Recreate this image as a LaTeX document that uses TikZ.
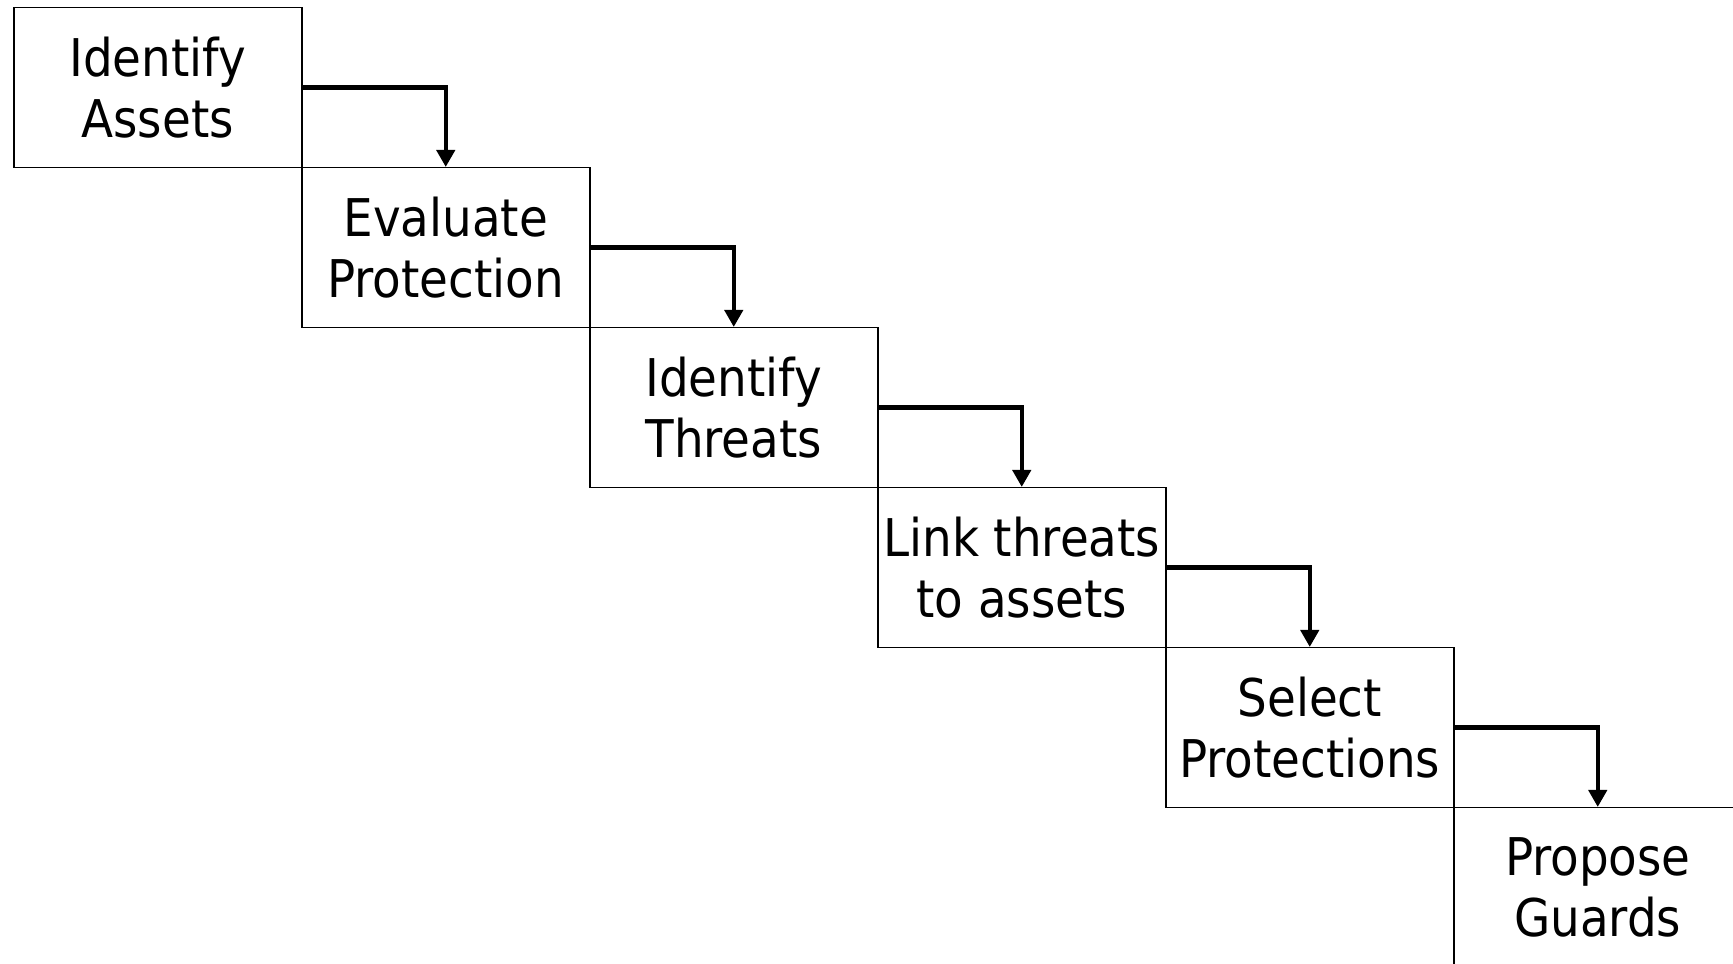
\documentclass[tikz,border=0pt]{standalone}
\usepackage{fontspec}
\setmainfont{DejaVu Sans Condensed}
\usetikzlibrary{arrows.meta}
\tikzset{
  stepbox/.style={draw=black, line width=1.5pt, minimum width=288pt, minimum height=160pt,
    inner sep=0pt, align=center, font=\fontsize{52}{61}\selectfont, anchor=north west},
  flow/.style={line width=4.5pt, -{Triangle[width=18pt,length=17pt]}}
}
\begin{document}
\begin{tikzpicture}[x=1pt,y=1pt]
\useasboundingbox (0,0) rectangle (1733,964);
\clip (0,0) rectangle (1733,964);
\fill[white] (0,0) rectangle (1733,964);
\node[stepbox] (b1) at (13,957) {Identify\\Assets};
\node[stepbox] (b2) at (301,797) {Evaluate\\Protection};
\node[stepbox] (b3) at (589,637) {Identify\\Threats};
\node[stepbox] (b4) at (877,477) {Link threats\\to assets};
\node[stepbox] (b5) at (1165,317) {Select\\Protections};
\node[stepbox] (b6) at (1453,157) {Propose\\Guards};
\draw[flow] (b1.east) -| (b2.north);
\draw[flow] (b2.east) -| (b3.north);
\draw[flow] (b3.east) -| (b4.north);
\draw[flow] (b4.east) -| (b5.north);
\draw[flow] (b5.east) -| (b6.north);
\end{tikzpicture}
\end{document}
